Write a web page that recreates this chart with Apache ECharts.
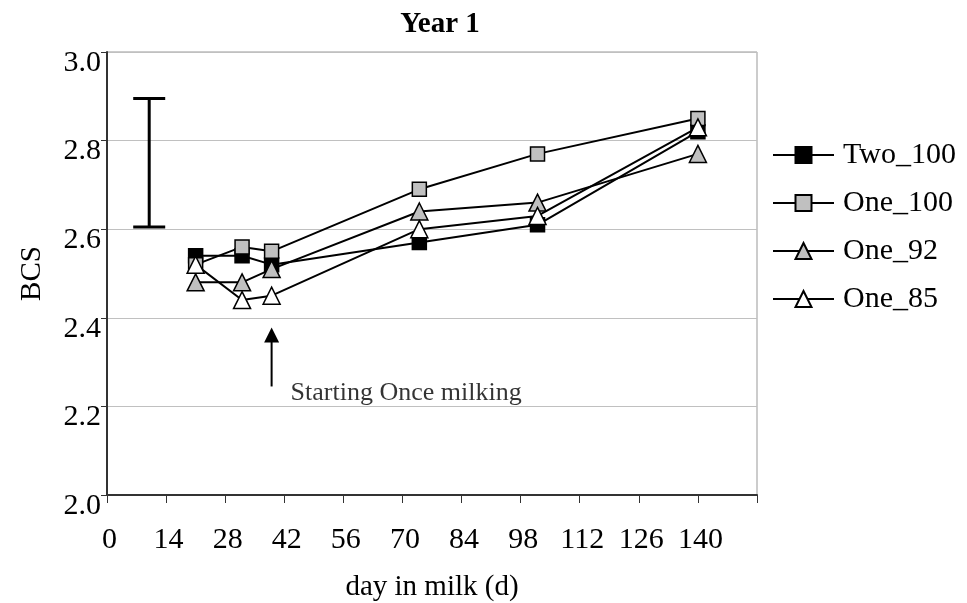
<!DOCTYPE html>
<html>
<head>
<meta charset="utf-8">
<script src="https://cdn.jsdelivr.net/npm/echarts@6/dist/echarts.min.js"></script>
<style>html,body{margin:0;padding:0;background:#fff}#c{width:967px;height:603px}</style>
</head>
<body>
<div id="c"></div>
<script>
var days = [21, 32, 39, 74, 102, 140];
var two100 = [2.54, 2.54, 2.52, 2.57, 2.61, 2.82];
var one100 = [2.52, 2.56, 2.55, 2.69, 2.77, 2.85];
var one92 = [2.48, 2.48, 2.51, 2.64, 2.66, 2.77];
var one85 = [2.52, 2.44, 2.45, 2.60, 2.63, 2.83];
var errorBar = [10, 2.605, 2.895];
var arrow = [[39, 2.245], [39, 2.378]];
var annotation = [43.5, 2.23, 'Starting Once milking'];
var xTicks = [0, 14, 28, 42, 56, 70, 84, 98, 112, 126, 140];
var yTicks = [2.0, 2.2, 2.4, 2.6, 2.8, 3.0];

function pairs(ys) { return days.map(function (d, i) { return [d, ys[i]]; }); }
var font = 'Liberation Serif';

function mkSeries(name, ys, symbol, fill, size) {
  return {
    name: name, type: 'line', data: pairs(ys), symbol: symbol, symbolSize: size,
    showAllSymbol: true,
    lineStyle: { color: '#000', width: 2 },
    itemStyle: { color: fill, borderColor: '#000', borderWidth: 1.5 },
    z: 3
  };
}

var chart = echarts.init(document.getElementById('c'));
chart.setOption({
  animation: false,
  backgroundColor: '#fff',
  title: { text: 'Year 1', left: 435, top: 5, textAlign: 'center',
    textStyle: { fontFamily: font, fontWeight: 'bold', fontSize: 29, color: '#000' } },
  grid: { left: 107, right: 210, top: 52, bottom: 108, show: true, borderColor: '#999', borderWidth: 1,
    containLabel: false, outerBoundsMode: 'none' },
  legend: {
    orient: 'vertical', left: 772, top: 140, padding: 0, itemGap: 18, itemWidth: 61, itemHeight: 20,
    textStyle: { fontFamily: font, fontSize: 30, color: '#000', padding: [0, 0, 0, 4] },
    data: ['Two_100', 'One_100', 'One_92', 'One_85']
  },
  xAxis: {
    type: 'value', min: 0, max: 154, interval: 14,
    name: 'day in milk (d)', nameLocation: 'middle', nameGap: 78,
    nameTextStyle: { fontFamily: font, fontSize: 29, color: '#000' },
    axisLine: { show: true, lineStyle: { color: '#333', width: 2 } },
    axisTick: { show: true, length: 8, lineStyle: { color: '#333', width: 1 } },
    axisLabel: { fontFamily: font, fontSize: 30, color: '#000', margin: 30, padding: [0, 0, 0, 5],
      formatter: function (v) { return xTicks.indexOf(v) >= 0 ? String(v) : ''; } },
    splitLine: { show: false }
  },
  yAxis: {
    type: 'value', min: 2.0, max: 3.0, interval: 0.2,
    name: 'BCS', nameLocation: 'middle', nameGap: 60,
    nameTextStyle: { fontFamily: font, fontSize: 29, color: '#000' },
    axisLine: { show: true, lineStyle: { color: '#333', width: 2 } },
    axisTick: { show: true, length: 6, lineStyle: { color: '#333' } },
    axisLabel: { fontFamily: font, fontSize: 30, color: '#000', margin: 6, verticalAlign: 'top',
      lineHeight: 10, padding: [6, 0, 0, 0],
      formatter: function (v) { return v.toFixed(1); } },
    splitLine: { show: true, lineStyle: { color: '#c0c0c0', width: 1 } }
  },
  series: [
    mkSeries('Two_100', two100, 'rect', '#000', 14),
    mkSeries('One_100', one100, 'rect', '#c0c0c0', 14),
    mkSeries('One_92', one92, 'triangle', '#c0c0c0', 17),
    mkSeries('One_85', one85, 'triangle', '#fff', 17),
    {
      type: 'custom', name: 'err', data: [errorBar], z: 4,
      renderItem: function (params, api) {
        var top = api.coord([api.value(0), api.value(2)]);
        var bot = api.coord([api.value(0), api.value(1)]);
        var hw = 16;
        var st = { stroke: '#000', lineWidth: 3 };
        return { type: 'group', children: [
          { type: 'line', shape: { x1: top[0], y1: top[1], x2: bot[0], y2: bot[1] }, style: st },
          { type: 'line', shape: { x1: top[0] - hw, y1: top[1], x2: top[0] + hw, y2: top[1] }, style: st },
          { type: 'line', shape: { x1: bot[0] - hw, y1: bot[1], x2: bot[0] + hw, y2: bot[1] }, style: st }
        ]};
      }
    },
    {
      type: 'custom', name: 'arrow', data: [[arrow[0][0], arrow[0][1], arrow[1][1]]], z: 4,
      renderItem: function (params, api) {
        var a = api.coord([api.value(0), api.value(1)]);
        var b = api.coord([api.value(0), api.value(2)]);
        return { type: 'group', children: [
          { type: 'line', shape: { x1: a[0], y1: a[1], x2: b[0], y2: b[1] + 13 }, style: { stroke: '#000', lineWidth: 2 } },
          { type: 'polygon', shape: { points: [[b[0], b[1]], [b[0] - 7.5, b[1] + 15], [b[0] + 7.5, b[1] + 15]] }, style: { fill: '#000' } }
        ]};
      }
    },
    {
      type: 'scatter', name: 'note', data: [[annotation[0], annotation[1]]], symbolSize: 0,
      label: { show: true, position: 'right', distance: 0, formatter: annotation[2],
        fontFamily: font, fontSize: 26, color: '#000' },
      silent: true
    }
  ]
});
</script>
</body>
</html>
